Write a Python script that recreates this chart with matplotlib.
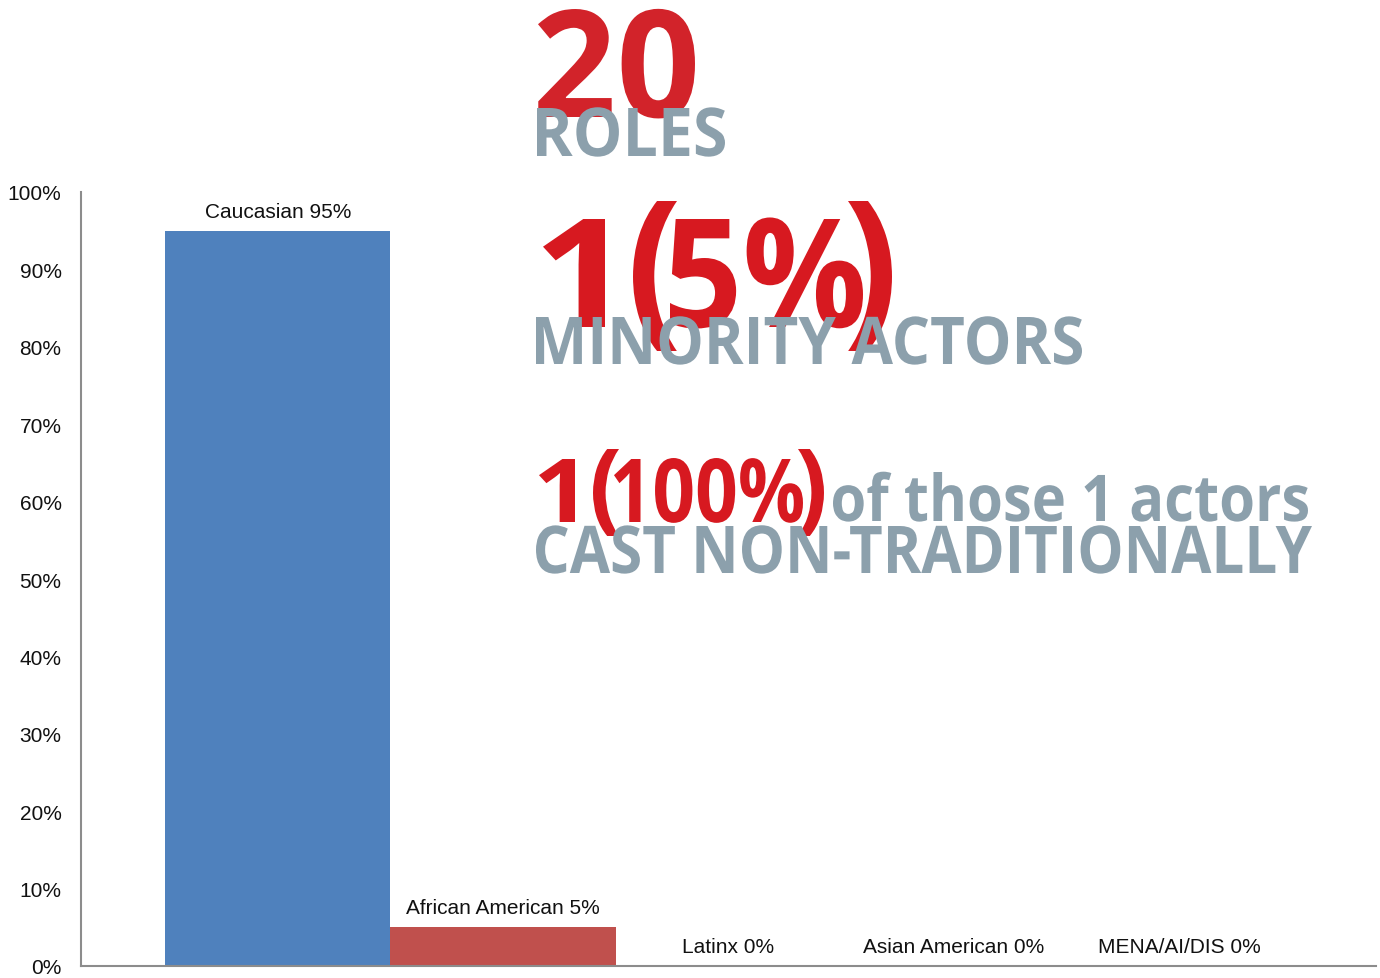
import matplotlib
matplotlib.use("Agg")
import matplotlib.pyplot as plt
from matplotlib.textpath import TextPath
from matplotlib.patches import PathPatch
from matplotlib.font_manager import FontProperties
from matplotlib.transforms import Affine2D
from matplotlib.ticker import PercentFormatter

# casting breakdown
groups = ["Caucasian", "African American", "Latinx", "Asian American", "MENA/AI/DIS"]
shares = [95, 5, 0, 0, 0]
bar_colors = ["#4f81bd", "#c0504d", "#9bbb59", "#8064a2", "#4bacc6"]
yticks = [0, 10, 20, 30, 40, 50, 60, 70, 80, 90, 100]

W, H = 1380, 979
RED = "#d71920"
GREY = "#8ca0ac"
HEAD = FontProperties(family="Open Sans", weight="bold")

fig = plt.figure(figsize=(W / 100, H / 100), dpi=100)
ax = fig.add_axes([81 / W, 12 / H, (1376 - 81) / W, (967 - 193) / H])

x = range(len(groups))
bars = ax.bar(x, shares, width=1.0, color=bar_colors, zorder=2)
for i, (g, v) in enumerate(zip(groups, shares)):
    ax.annotate(f"{g} {v}%", (i, v), xytext=(0, 10), textcoords="offset points",
                ha="center", va="baseline", fontsize=15, family="Liberation Sans",
                color="#111111")

ax.set_xlim(-0.5 - 84 / 225, len(groups) - 0.5 + 84 / 225)
ax.set_ylim(0, 100)
ax.set_yticks(yticks)
ax.yaxis.set_major_formatter(PercentFormatter(decimals=0))
ax.set_xticks([])
ax.tick_params(axis="y", length=0, pad=14, labelsize=15)
for lbl in ax.get_yticklabels():
    lbl.set_family("Liberation Sans")
    lbl.set_color("#111111")
for side in ("top", "right"):
    ax.spines[side].set_visible(False)
for side in ("left", "bottom"):
    ax.spines[side].set_color("#8c8c8c")
    ax.spines[side].set_linewidth(1.5)


def _place(path, tr, color):
    tr = tr.scale(1 / W, 1 / H) + fig.transFigure
    fig.add_artist(PathPatch(path, transform=tr, facecolor=color,
                             edgecolor="none", zorder=5))


def headline(s, left, base, width, height, color, ref=None):
    # outline of s stretched to a pixel width; height is measured on the ref glyphs
    path = TextPath((0, 0), s, size=100, prop=HEAD)
    ext = path.get_extents()
    ref_h = TextPath((0, 0), ref or s, size=100, prop=HEAD).get_extents().y1
    _place(path, Affine2D().translate(-ext.x0, 0)
           .scale(width / ext.width, height / ref_h)
           .translate(left, H - base), color)


def boxed(s, left, top, right, bottom, color):
    # outline of s squeezed into a pixel box (used for the tall brackets)
    path = TextPath((0, 0), s, size=100, prop=HEAD)
    ext = path.get_extents()
    _place(path, Affine2D().translate(-ext.x0, -ext.y0)
           .scale((right - left) / ext.width, (bottom - top) / ext.height)
           .translate(left, H - bottom), color)


# red figures first, grey captions on top
headline("20", 538, 118, 157, 108, "#d2232a", ref="2")

headline("1", 543, 328, 62, 108, RED, ref="1")
boxed("(", 633, 202, 677, 352, RED)
headline("5%", 670, 328, 193, 108, RED, ref="5")
boxed(")", 848, 202, 892, 352, RED)

headline("1", 539, 523, 36, 63, RED, ref="1")
boxed("(", 593, 450, 619, 537, RED)
headline("100%", 614, 523, 189, 63, RED, ref="1")
boxed(")", 798, 450, 824, 537, RED)

headline("ROLES", 537, 157, 188, 48, GREY, ref="E")
headline("MINORITY ACTORS", 536, 365, 546, 47, GREY, ref="E")
headline("of those 1 actors", 833, 522, 475, 49, GREY, ref="h")
headline("CAST NON-TRADITIONALLY", 536, 574, 776, 47, GREY, ref="E")

fig.savefig("out.png", dpi=100)
